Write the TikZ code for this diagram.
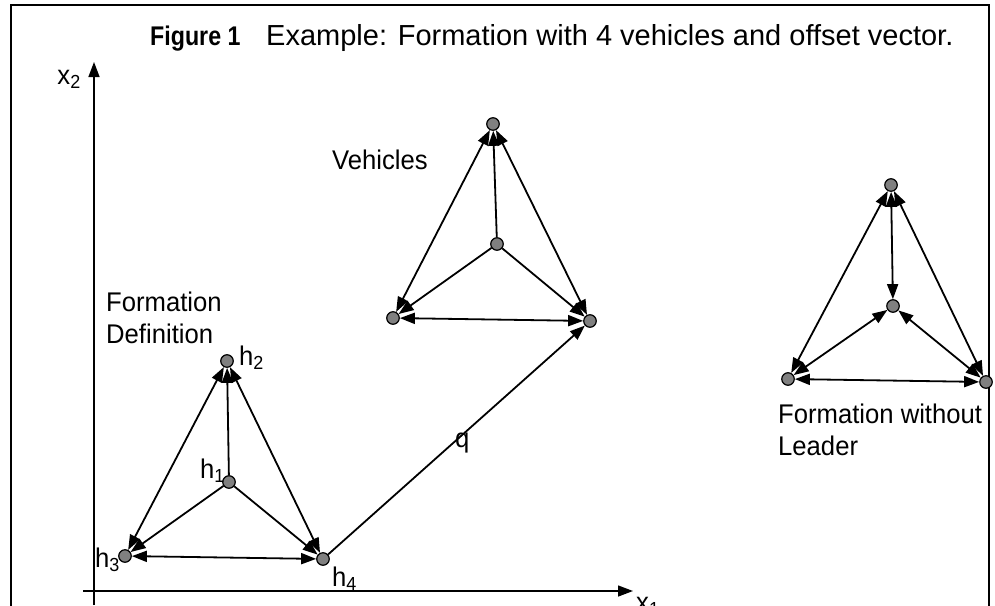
\documentclass[tikz,border=0pt]{standalone}
\usepackage{fontspec}
\setmainfont{Liberation Sans}
\newfontfamily\narrowsans[FakeStretch=0.95]{Liberation Sans}
\newfontfamily\figfont[FakeStretch=0.86]{Liberation Sans}
\usetikzlibrary{arrows.meta}
\begin{document}
\begin{tikzpicture}[x=1pt,y=-1pt,
  vtx/.style={circle,draw=black,fill=gray,line width=1.2pt,inner sep=0pt,minimum size=12.5pt},
  edge/.style={line width=1.8pt},
  one/.style={edge,-{Triangle[length=15pt,width=11pt]}},
  two/.style={edge,{Triangle[length=15pt,width=11pt]}-{Triangle[length=15pt,width=11pt]}},
  lbl/.style={inner sep=0pt,font=\narrowsans\fontsize{27}{32}\selectfont},
  ttl/.style={inner sep=0pt,font=\fontsize{29}{32}\selectfont}]
\useasboundingbox (0,0) rectangle (995,605);
% frame
\draw[line width=1.8pt] (11,610) -- (11,5) -- (989,5) -- (989,610);
% title
\node[inner sep=0pt,anchor=base west] (fig) at (150,45) {\figfont\fontsize{27}{30}\selectfont\bfseries Figure 1};
\node[ttl,anchor=base west] (cap) at (266,45) {Example: Formation with 4 vehicles and offset vector.};
% axes
\coordinate (yb) at (94,605);
\coordinate (yt) at (94,62);
\coordinate (xl) at (83,591);
\coordinate (xr) at (633,591);
\draw[one,line width=1.4pt] (yb) -- (yt);
\draw[one,line width=1.4pt] (xl) -- (xr);
\node[lbl,anchor=base west] (x1) at (636,611) {x\textsubscript{1}};
\node[lbl,anchor=base east] (x2) at (81,84) {x\textsubscript{2}};
% formation definition
\node[vtx] (h1) at (229,482) {};
\node[vtx] (h2) at (227,361) {};
\node[vtx] (h3) at (125,556) {};
\node[vtx] (h4) at (323,559) {};
\draw[one] (h1) -- (h2);
\draw[one] (h1) -- (h3);
\draw[one] (h1) -- (h4);
\draw[two] (h2) -- (h3);
\draw[two] (h2) -- (h4);
\draw[two] (h3) -- (h4);
\node[lbl,anchor=base west] (lh2) at (239,365) {h\textsubscript{2}};
\node[lbl,anchor=base east] (lh1) at (225,478) {h\textsubscript{1}};
\node[lbl,anchor=base east] (lh3) at (120,567) {h\textsubscript{3}};
\node[lbl,anchor=base west] (lh4) at (332,586) {h\textsubscript{4}};
\node[lbl,anchor=north west,align=left] (fd) at (106,292) {Formation\\Definition};
% vehicles
\node[vtx] (vc) at (497,244) {};
\node[vtx] (vt) at (493,124) {};
\node[vtx] (vl) at (393,318) {};
\node[vtx] (vr) at (590,321) {};
\draw[one] (vc) -- (vt);
\draw[one] (vc) -- (vl);
\draw[one] (vc) -- (vr);
\draw[two] (vt) -- (vl);
\draw[two] (vt) -- (vr);
\draw[two] (vl) -- (vr);
\node[lbl,anchor=base west] (veh) at (332,169) {Vehicles};
% offset vector
\draw[one] (h4) -- (vr);
\node[lbl,anchor=base west] (q) at (455,447) {q};
% formation without leader
\node[vtx] (fc) at (893,306) {};
\node[vtx] (ft) at (891,185) {};
\node[vtx] (fl) at (788,379) {};
\node[vtx] (fr) at (986,382) {};
\draw[two] (fc) -- (ft);
\draw[two] (fc) -- (fl);
\draw[two] (fc) -- (fr);
\draw[two] (ft) -- (fl);
\draw[two] (ft) -- (fr);
\draw[two] (fl) -- (fr);
\node[lbl,anchor=north west,align=left] (fwl) at (778,404) {Formation without\\Leader};
\end{tikzpicture}
\end{document}
